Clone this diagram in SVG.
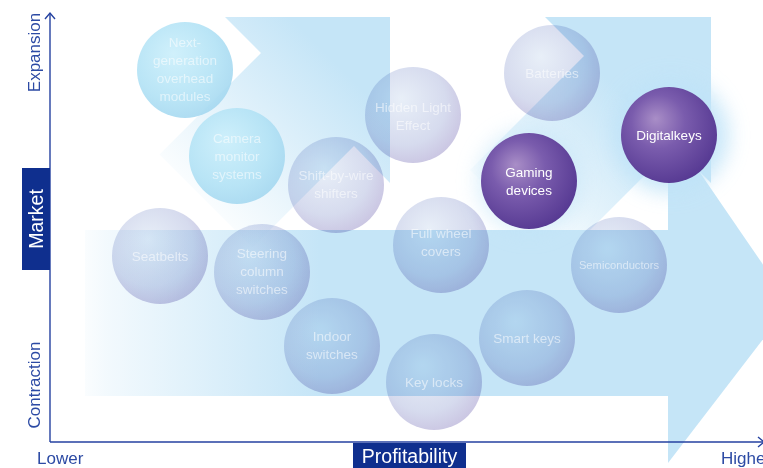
<svg xmlns="http://www.w3.org/2000/svg" width="763" height="468" viewBox="0 0 763 468">
<defs>
<style>
.lbl{font-family:"Liberation Sans",Arial,sans-serif;font-size:17px;fill:#2c4aa4}
.box{fill:#0f2f8e}
.boxt{font-family:"Liberation Sans",Arial,sans-serif;font-size:19.5px;fill:#ffffff}
.ct{font-family:"Liberation Sans",Arial,sans-serif;font-size:13.5px;fill:#ffffff;fill-opacity:0.55;text-anchor:middle}
.ctp{font-family:"Liberation Sans",Arial,sans-serif;font-size:13.5px;fill:#ffffff;text-anchor:middle}
.lav{fill:url(#gLav);mix-blend-mode:multiply}
.cyan{fill:url(#gCyan);fill-opacity:0.9}
.pur{fill:url(#gPur)}
.axis{stroke:#2441a0;stroke-width:1.4;fill:none}
.glow{fill:#bfe3f8;filter:url(#blur)}
</style>
<linearGradient id="gShaft" gradientUnits="userSpaceOnUse" x1="70" y1="0" x2="320" y2="0">
<stop offset="0" stop-color="#c5e5f7" stop-opacity="0"/>
<stop offset="0.15" stop-color="#c5e5f7" stop-opacity="0.22"/>
<stop offset="1" stop-color="#c5e5f7" stop-opacity="1"/>
</linearGradient>
<linearGradient id="gUL" gradientUnits="userSpaceOnUse" x1="206" y1="201" x2="340" y2="67">
<stop offset="0" stop-color="#c5e5f7" stop-opacity="0.1"/>
<stop offset="1" stop-color="#c5e5f7" stop-opacity="1"/>
</linearGradient>
<linearGradient id="gUR" gradientUnits="userSpaceOnUse" x1="505" y1="225" x2="629" y2="101">
<stop offset="0" stop-color="#c5e5f7" stop-opacity="0"/>
<stop offset="0.4" stop-color="#c5e5f7" stop-opacity="0.45"/>
<stop offset="1" stop-color="#c5e5f7" stop-opacity="1"/>
</linearGradient>
<radialGradient id="gLav" cx="0.42" cy="0.4" r="0.62" fx="0.38" fy="0.33">
<stop offset="0" stop-color="#e8eff8"/>
<stop offset="0.7" stop-color="#d6dbee"/>
<stop offset="1" stop-color="#cbc7e3"/>
</radialGradient>
<radialGradient id="gCyan" cx="0.42" cy="0.4" r="0.62" fx="0.38" fy="0.33">
<stop offset="0" stop-color="#cbeffb"/>
<stop offset="0.7" stop-color="#b2e2f5"/>
<stop offset="1" stop-color="#a5d8f0"/>
</radialGradient>
<radialGradient id="gPur" cx="0.42" cy="0.4" r="0.62" fx="0.36" fy="0.33">
<stop offset="0" stop-color="#a98ec7"/>
<stop offset="0.45" stop-color="#7a5cad"/>
<stop offset="1" stop-color="#573a93"/>
</radialGradient>
<filter id="blur" x="-60%" y="-60%" width="220%" height="220%">
<feGaussianBlur stdDeviation="10"/>
</filter>
</defs>

<rect width="763" height="468" fill="#ffffff"/>

<g id="arrows">
<rect x="85" y="230" width="583" height="166" fill="url(#gShaft)"/>
<polygon points="668,126 790,304 668,463" fill="#c5e5f7"/>
<polygon points="225,17 390,17 390,183 354,146 252.5,247.5 159.5,154.5 261,53" fill="url(#gUL)"/>
<polygon points="545,17 711,17 711,183 674,146 560,260 470,170 584,56" fill="url(#gUR)"/>
</g>

<g id="glows">
<circle class="glow" cx="671" cy="135" r="58" opacity="0.85"/>
<circle class="glow" cx="529" cy="181" r="52" opacity="0.55"/>
</g>

<g id="axes">
<line class="axis" x1="50" y1="13" x2="50" y2="442"/>
<polyline class="axis" points="45,19 50,13 55,19"/>
<line class="axis" x1="50" y1="442" x2="770" y2="442"/>
<polyline class="axis" points="758,437 764,442 758,447"/>
<text class="lbl" transform="translate(40,52.5) rotate(-90)" text-anchor="middle">Expansion</text>
<text class="lbl" transform="translate(40,385) rotate(-90)" text-anchor="middle">Contraction</text>
<text class="lbl" x="37" y="464">Lower</text>
<text class="lbl" x="721" y="464">Higher</text>
</g>

<g id="market-label">
<rect class="box" x="22" y="168" width="28" height="102"/>
<text class="boxt" transform="translate(43,219) rotate(-90)" text-anchor="middle">Market</text>
</g>
<g id="profitability-label">
<rect class="box" x="353" y="443" width="113" height="25"/>
<text class="boxt" x="409.5" y="463" text-anchor="middle">Profitability</text>
</g>

<g id="node-next-generation">
<circle class="cyan" cx="185" cy="70" r="48"/>
<text class="ct"><tspan x="185" y="47">Next-</tspan><tspan x="185" y="65">generation</tspan><tspan x="185" y="83">overhead</tspan><tspan x="185" y="101">modules</tspan></text>
</g>
<g id="node-camera">
<circle class="cyan" cx="237" cy="156" r="48"/>
<text class="ct"><tspan x="237" y="143">Camera</tspan><tspan x="237" y="161">monitor</tspan><tspan x="237" y="179">systems</tspan></text>
</g>
<g id="node-shift-by-wire">
<circle class="lav" cx="336" cy="185" r="48"/>
<text class="ct"><tspan x="336" y="180">Shift-by-wire</tspan><tspan x="336" y="198">shifters</tspan></text>
</g>
<g id="node-hidden-light">
<circle class="lav" cx="413" cy="115" r="48"/>
<text class="ct"><tspan x="413" y="112">Hidden Light</tspan><tspan x="413" y="130">Effect</tspan></text>
</g>
<g id="node-batteries">
<circle class="lav" cx="552" cy="73" r="48"/>
<text class="ct" x="552" y="78">Batteries</text>
</g>
<g id="node-seatbelts">
<circle class="lav" cx="160" cy="256" r="48"/>
<text class="ct" x="160" y="261">Seatbelts</text>
</g>
<g id="node-steering">
<circle class="lav" cx="262" cy="272" r="48"/>
<text class="ct"><tspan x="262" y="258">Steering</tspan><tspan x="262" y="276">column</tspan><tspan x="262" y="294">switches</tspan></text>
</g>
<g id="node-full-wheel">
<circle class="lav" cx="441" cy="245" r="48"/>
<text class="ct"><tspan x="441" y="238">Full wheel</tspan><tspan x="441" y="256">covers</tspan></text>
</g>
<g id="node-semiconductors">
<circle class="lav" cx="619" cy="265" r="48"/>
<text class="ct" x="619" y="269" style="font-size:11.2px">Semiconductors</text>
</g>
<g id="node-indoor">
<circle class="lav" cx="332" cy="346" r="48"/>
<text class="ct"><tspan x="332" y="341">Indoor</tspan><tspan x="332" y="359">switches</tspan></text>
</g>
<g id="node-smart-keys">
<circle class="lav" cx="527" cy="338" r="48"/>
<text class="ct" x="527" y="343">Smart keys</text>
</g>
<g id="node-key-locks">
<circle class="lav" cx="434" cy="382" r="48"/>
<text class="ct" x="434" y="387">Key locks</text>
</g>
<g id="node-gaming">
<circle class="pur" cx="529" cy="181" r="48"/>
<text class="ctp"><tspan x="529" y="177">Gaming</tspan><tspan x="529" y="195">devices</tspan></text>
</g>
<g id="node-digitalkeys">
<circle class="pur" cx="669" cy="135" r="48"/>
<text class="ctp" x="669" y="140">Digitalkeys</text>
</g>
</svg>
